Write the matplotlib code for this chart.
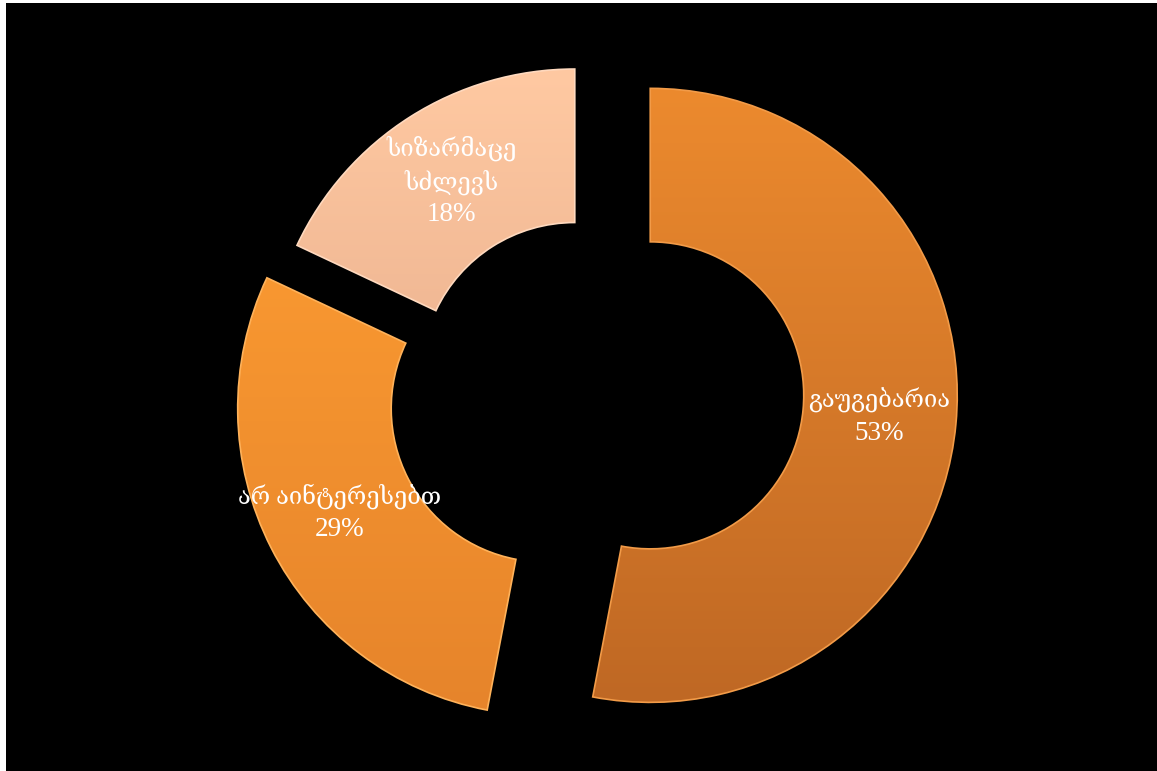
import numpy as np
import matplotlib
matplotlib.use('Agg')
import matplotlib.pyplot as plt
from matplotlib.colors import LinearSegmentedColormap
from matplotlib.patches import Rectangle

# data
categories = ['გაუგებარია', 'არ აინტერესებთ', 'სიზარმაცე\nსძლევს']
values = [53, 29, 18]
explode = [0.22, 0.14, 0.05]
# gradient colours per slice (top, bottom)
grad_colors = [('#EC8A2E', '#BF6824'),
               ('#FF9F33', '#E6842B'),
               ('#FFC9A2', '#DB9F80')]
edge_colors = ['#F29B48', '#FFB25A', '#FFD9BE']

W, H = 1157, 771
R = 307.0
cx, cy = 583.0, 389.0
serif = ['Liberation Serif', 'DejaVu Serif', 'DejaVu Sans']

fig = plt.figure(figsize=(W / 100, H / 100), dpi=100)
fig.patch.set_facecolor('white')
ax = fig.add_axes([0, 0, 1, 1])
ax.set_facecolor('black')
ax.axis('off')

# black background with thin white strips at left/top
ax.add_patch(Rectangle((-cx / R + 6 / R, -(H - cy) / R), W / R, (H - 3) / R,
                       facecolor='black', edgecolor='none', zorder=0))

wedges, texts, autotexts = ax.pie(
    values, explode=explode, startangle=90, counterclock=False,
    radius=1.0, pctdistance=0.75, autopct='%1.0f%%',
    colors=[c[0] for c in grad_colors],
    wedgeprops=dict(width=0.5, edgecolor='none'))

# gradient fill clipped to each wedge
for w, (c_top, c_bot), ec in zip(wedges, grad_colors, edge_colors):
    cmap = LinearSegmentedColormap.from_list('g', [c_bot, c_top])
    grad = np.linspace(0, 1, 256).reshape(-1, 1)
    x0, y0 = w.center
    im = ax.imshow(grad, cmap=cmap, origin='lower', aspect='auto',
                   extent=(x0 - 1, x0 + 1, y0 - 1, y0 + 1), zorder=2)
    im.set_clip_path(w)
    w.set_edgecolor(ec)
    w.set_linewidth(1.2)
    w.set_zorder(3)
    w.set_facecolor('none')

# labels: category lines above, percentage below
step = 33 * 72 / 100  # line step in points
for t, cat in zip(autotexts, categories):
    pos = t.get_position()
    pct = t.get_text()
    t.set_visible(False)
    k = cat.count('\n') + 1
    ax.annotate(cat, pos, xytext=(0, step / 2), textcoords='offset points',
                ha='center', va='center', color='white', fontsize=17,
                family=serif, linespacing=1.4, zorder=5)
    ax.annotate(pct, pos, xytext=(0, -k * step / 2), textcoords='offset points',
                ha='center', va='center', color='white', fontsize=19.5,
                family=serif, zorder=5)

ax.set_xlim(-cx / R, (W - cx) / R)
ax.set_ylim(-(H - cy) / R, cy / R)
ax.set_aspect('auto')

fig.savefig('out.png', dpi=100, facecolor='white')
